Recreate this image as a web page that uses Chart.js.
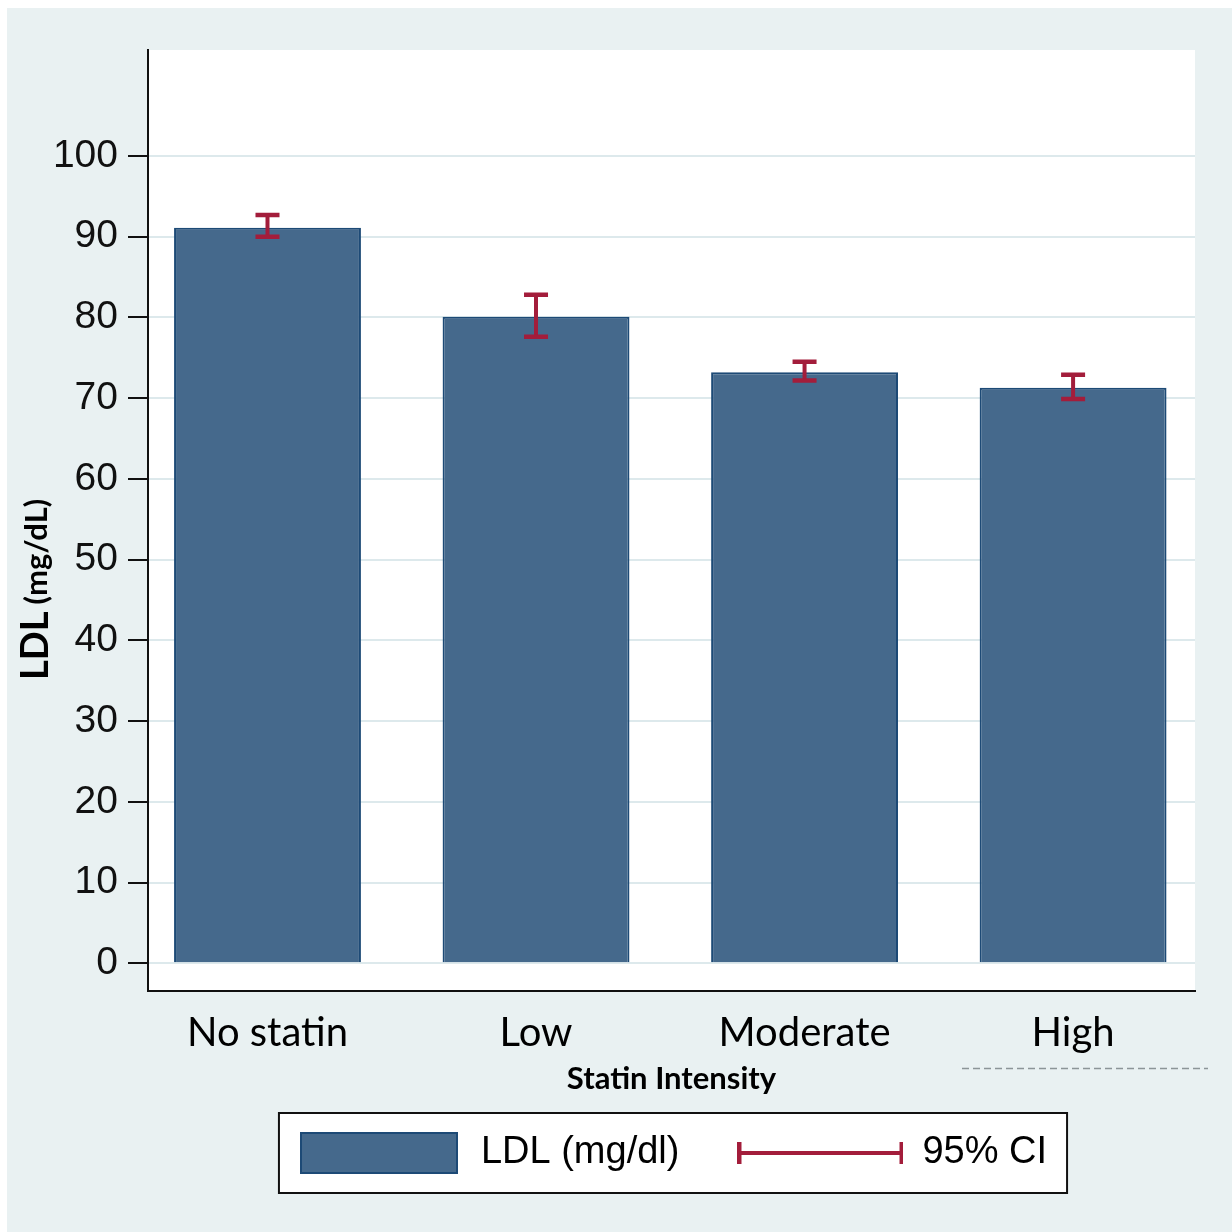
<!DOCTYPE html>
<html>
<head>
<meta charset="utf-8">
<script src="https://cdn.jsdelivr.net/npm/chart.js@4.4.1/dist/chart.umd.min.js"></script>
<style>
  html, body { margin: 0; padding: 0; background: #ffffff; }
  #c { display: block; width: 1232px; height: 1232px; }
</style>
</head>
<body>
<canvas id="c" width="1232" height="1232"></canvas>
<script>
// ---- data ----
const categories = ['No statin', 'Low', 'Moderate', 'High'];
const ldlMeans   = [91.1, 80.1, 73.2, 71.3];
const ciLower    = [90.0, 77.6, 72.2, 69.9];
const ciUpper    = [92.7, 82.8, 74.5, 72.9];
const yTicks     = [0, 10, 20, 30, 40, 50, 60, 70, 80, 90, 100];
const seriesLabel = 'LDL (mg/dl)';
const ciLabel = '95% CI';
const yTitleMain = 'LDL ';
const yTitleUnit = '(mg/dL)';
const xTitle = 'Statin Intensity';

// ---- styles ----
const BAR_FILL = '#45698c';
const BAR_EDGE = '#1d4a76';
const CI_COLOR = '#a31d3b';
const PANEL = '#e9f1f2';
const SANS = "'Liberation Sans', Arial, sans-serif";
const LATO = "Lato, 'Open Sans', sans-serif";

function makeBoxIcon() {
  const cv = document.createElement('canvas');
  cv.width = 160; cv.height = 44;
  const g = cv.getContext('2d');
  g.fillStyle = BAR_FILL;
  g.fillRect(2, 2, 156, 40);
  g.strokeStyle = BAR_EDGE;
  g.lineWidth = 2;
  g.strokeRect(2, 2, 156, 40);
  return cv;
}
function makeCiIcon() {
  const cv = document.createElement('canvas');
  cv.width = 166; cv.height = 44;
  const g = cv.getContext('2d');
  g.strokeStyle = CI_COLOR;
  g.lineWidth = 4;
  g.beginPath();
  g.moveTo(2, 22); g.lineTo(164, 22);
  g.moveTo(2, 11); g.lineTo(2, 33);
  g.moveTo(164, 11); g.lineTo(164, 33);
  g.stroke();
  return cv;
}

const backgroundPlugin = {
  id: 'bg',
  beforeDraw(chart) {
    const ctx = chart.ctx;
    const a = chart.chartArea;
    ctx.save();
    ctx.fillStyle = '#ffffff';
    ctx.fillRect(0, 0, chart.width, chart.height);
    ctx.fillStyle = PANEL;
    ctx.fillRect(7, 8, chart.width - 7, chart.height - 8);
    ctx.fillStyle = '#ffffff';
    ctx.fillRect(a.left, a.top, a.right - a.left, a.bottom - a.top);
    // legend frame
    const lg = chart.legend;
    if (lg && lg.legendHitBoxes && lg.legendHitBoxes.length) {
      const hb = lg.legendHitBoxes;
      const first = hb[0], last = hb[hb.length - 1];
      const l = first.left - 17, r = last.left + last.width + 20;
      const cy = first.top + first.height / 2;
      ctx.fillStyle = '#ffffff';
      ctx.fillRect(l, cy - 40, r - l, 80);
      ctx.strokeStyle = '#111111';
      ctx.lineWidth = 2;
      ctx.strokeRect(l, cy - 40, r - l, 80);
    }
    // faint dashed rule under the last category label
    ctx.strokeStyle = '#8c9598';
    ctx.lineWidth = 1.5;
    ctx.setLineDash([7, 4]);
    ctx.beginPath();
    ctx.moveTo(962, 1068.5);
    ctx.lineTo(1208, 1068.5);
    ctx.stroke();
    ctx.restore();
  }
};

const errorBarPlugin = {
  id: 'errorBars',
  afterDatasetsDraw(chart) {
    const ctx = chart.ctx;
    const xs = chart.scales.x, ys = chart.scales.y;
    ctx.save();
    ctx.strokeStyle = CI_COLOR;
    ctx.lineCap = 'butt';
    for (let i = 0; i < categories.length; i++) {
      const x = xs.getPixelForValue(i + 1);
      const yl = ys.getPixelForValue(ciLower[i]);
      const yh = ys.getPixelForValue(ciUpper[i]);
      ctx.lineWidth = 4;
      ctx.beginPath();
      ctx.moveTo(x, yl); ctx.lineTo(x, yh);
      ctx.stroke();
      ctx.lineWidth = 4.5;
      ctx.beginPath();
      ctx.moveTo(x - 12, yl); ctx.lineTo(x + 12, yl);
      ctx.moveTo(x - 12, yh); ctx.lineTo(x + 12, yh);
      ctx.stroke();
    }
    ctx.restore();
  }
};

const yTitlePlugin = {
  id: 'yTitle',
  afterDraw(chart) {
    const ctx = chart.ctx;
    ctx.save();
    ctx.translate(36, 680);
    ctx.rotate(-Math.PI / 2);
    ctx.fillStyle = '#000000';
    ctx.textBaseline = 'middle';
    ctx.textAlign = 'left';
    ctx.font = "bold 38px " + LATO;
    ctx.fillText(yTitleMain, 0, 0);
    const w = ctx.measureText(yTitleMain).width;
    ctx.font = "bold 31px " + LATO;
    ctx.fillText(yTitleUnit, w - 2, 1);
    ctx.restore();
  }
};

const boxIcon = makeBoxIcon();
const ciIcon = makeCiIcon();

new Chart(document.getElementById('c'), {
  type: 'bar',
  data: {
    datasets: [{
      label: seriesLabel,
      data: categories.map((c, i) => ({ x: i + 1, y: ldlMeans[i] })),
      backgroundColor: BAR_FILL,
      borderColor: BAR_EDGE,
      borderWidth: 2,
      barPercentage: 0.696,
      categoryPercentage: 1.0
    }]
  },
  options: {
    responsive: false,
    animation: false,
    devicePixelRatio: 1,
    layout: { padding: { top: 50, right: 37, bottom: 50, left: 0 } },
    plugins: {
      tooltip: { enabled: false },
      legend: {
        display: true,
        position: 'bottom',
        fullSize: false,
        labels: {
          usePointStyle: true,
          pointStyleWidth: 166,
          boxHeight: 42,
          padding: 58,
          color: '#000000',
          font: { family: SANS, size: 38 },
          generateLabels() {
            return [
              { text: seriesLabel, pointStyle: boxIcon, fillStyle: BAR_FILL, strokeStyle: BAR_EDGE, lineWidth: 0, hidden: false, datasetIndex: 0, fontColor: '#000000' },
              { text: ciLabel, pointStyle: ciIcon, fillStyle: CI_COLOR, strokeStyle: CI_COLOR, lineWidth: 0, hidden: false, datasetIndex: 0, fontColor: '#000000' }
            ];
          }
        }
      }
    },
    scales: {
      x: {
        type: 'linear',
        min: 0.555,
        max: 4.454,
        offset: false,
        afterBuildTicks(scale) { scale.ticks = categories.map((c, i) => ({ value: i + 1 })); },
        afterFit(scale) { scale.height = 85; },
        ticks: {
          padding: 18,
          color: '#000000',
          font: { family: LATO, size: 40 },
          callback: (v) => categories[v - 1],
          maxRotation: 0,
          autoSkip: false
        },
        grid: { display: false, drawTicks: false, offset: false },
        border: { display: true, color: '#111111', width: 2 },
        title: {
          display: true,
          text: xTitle,
          color: '#000000',
          font: { family: LATO, size: 31, weight: 'bold' },
          padding: { top: 0, bottom: -22 }
        }
      },
      y: {
        min: -3.43,
        max: 113.13,
        afterBuildTicks(scale) { scale.ticks = yTicks.map(v => ({ value: v })); },
        afterFit(scale) { scale.width = 148; },
        ticks: {
          padding: 10,
          color: '#111111',
          font: { family: SANS, size: 39 }
        },
        grid: {
          color: '#dde9ec',
          lineWidth: 2,
          drawTicks: true,
          tickLength: 20,
          tickColor: '#111111',
          tickWidth: 2
        },
        border: { display: true, color: '#111111', width: 2 },
        title: { display: false }
      }
    }
  },
  plugins: [backgroundPlugin, errorBarPlugin, yTitlePlugin]
});
</script>
</body>
</html>
